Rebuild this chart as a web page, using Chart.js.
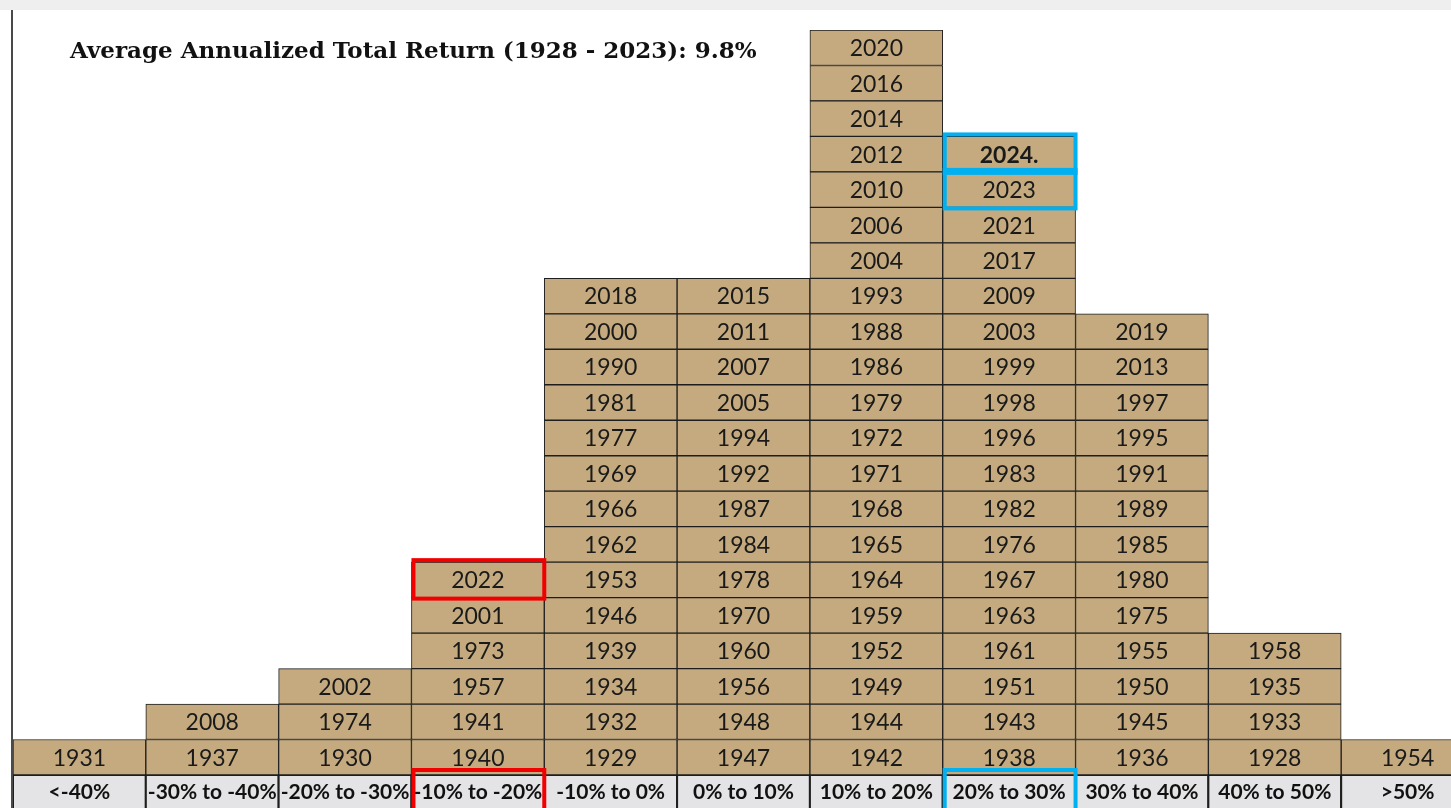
<!DOCTYPE html>
<html>
<head>
<meta charset="utf-8">
<script src="https://cdn.jsdelivr.net/npm/chart.js@4.4.0/dist/chart.umd.min.js"></script>
<style>
  html, body { margin: 0; padding: 0; background: #fff; overflow: hidden; }
  canvas { display: block; }
</style>
</head>
<body>
<canvas id="chart" width="1476" height="808"></canvas>
<script>
// return buckets (x axis)
const bins = ['<-40%', '-30% to -40%', '-20% to -30%', '-10% to -20%', '-10% to 0%',
  '0% to 10%', '10% to 20%', '20% to 30%', '30% to 40%', '40% to 50%', '>50%']

// years in each bucket, bottom of the stack first
const yearsLt40 = [1931]
const years30to40neg = [1937, 2008]
const years20to30neg = [1930, 1974, 2002]
const years10to20neg = [1940, 1941, 1957, 1973, 2001, 2022]
const years0to10neg = [1929, 1932, 1934, 1939, 1946, 1953, 1962, 1966, 1969, 1977, 1981, 1990, 2000, 2018]
const years0to10 = [1947, 1948, 1956, 1960, 1970, 1978, 1984, 1987, 1992, 1994, 2005, 2007, 2011, 2015]
const years10to20 = [1942, 1944, 1949, 1952, 1959, 1964, 1965, 1968, 1971, 1972, 1979, 1986, 1988, 1993,
  2004, 2006, 2010, 2012, 2014, 2016, 2020]
const years20to30 = [1938, 1943, 1951, 1961, 1963, 1967, 1976, 1982, 1983, 1996, 1998, 1999, 2003, 2009,
  2017, 2021, 2023, 2024]
const years30to40 = [1936, 1945, 1950, 1955, 1975, 1980, 1985, 1989, 1991, 1995, 1997, 2013, 2019]
const years40to50 = [1928, 1933, 1935, 1958]
const yearsGt50 = [1954]

const years = [yearsLt40, years30to40neg, years20to30neg, years10to20neg, years0to10neg,
  years0to10, years10to20, years20to30, years30to40, years40to50, yearsGt50]

// marked cells
const redYears = [2022]
const blueYears = [2024, 2023]
const boldYears = [2024]

const title = 'Average Annualized Total Return (1928 - 2023): 9.8%'

const tan = '#c4aa7e'
const lineColor = '#1e1e1e'
const red = '#f00000'
const blue = '#00b0f0'

let levels = Math.max(...years.map(col => col.length))
let datasets = []
for (let k = 0; k < levels; k++) {
    datasets.push({
        data: years.map(col => col.length > k ? 1 : null),
        backgroundColor: tan,
        borderColor: lineColor,
        borderWidth: 1,
        borderSkipped: false,
        categoryPercentage: 1,
        barPercentage: 1,
    })
}

function findCell(chart, yr) {
    for (let i = 0; i < years.length; i++) {
        let k = years[i].indexOf(yr)
        if (k >= 0) return { i, bar: chart.getDatasetMeta(k).data[i] }
    }
}

const decor = {
    id: 'decor',
    beforeDraw(chart) {
        const { ctx, chartArea, scales } = chart
        const w = chartArea.width / bins.length
        ctx.save()
        // top strip and left frame line
        ctx.fillStyle = '#efefef'
        ctx.fillRect(0, 0, chart.width, 10)
        // label cells
        bins.forEach((b, i) => {
            const cx = scales.x.getPixelForValue(i)
            ctx.fillStyle = '#e4e4e6'
            ctx.fillRect(cx - w / 2, chartArea.bottom, w, chart.height - chartArea.bottom)
            ctx.strokeStyle = lineColor
            ctx.lineWidth = 2
            ctx.strokeRect(cx - w / 2, chartArea.bottom, w, chart.height - chartArea.bottom + 5)
        })
        ctx.fillStyle = '#4a4a4a'
        ctx.fillRect(11, 10, 2, chart.height - 10)
        // title
        ctx.fillStyle = '#111'
        ctx.font = 'bold 23px "DejaVu Serif"'
        ctx.textAlign = 'left'
        ctx.textBaseline = 'alphabetic'
        ctx.fillText(title, 70, 58)
        ctx.restore()
    },
    afterDatasetsDraw(chart) {
        const ctx = chart.ctx
        ctx.save()
        ctx.textAlign = 'center'
        ctx.textBaseline = 'middle'
        ctx.fillStyle = '#1a1a1a'
        chart.data.datasets.forEach((ds, k) => {
            chart.getDatasetMeta(k).data.forEach((bar, i) => {
                const yr = years[i][k]
                if (yr === undefined) return
                const bold = boldYears.includes(yr)
                ctx.font = (bold ? 'bold ' : '') + '23px Lato'
                ctx.fillText(bold ? yr + '.' : String(yr), bar.x, (bar.y + bar.base) / 2 + 1)
            })
        })
        ctx.restore()
    },
    afterDraw(chart) {
        const { ctx, chartArea } = chart
        ctx.save()
        ctx.lineWidth = 4
        const mark = (list, color) => {
            let col
            list.forEach(yr => {
                const c = findCell(chart, yr)
                col = c
                const b = c.bar
                ctx.strokeStyle = color
                ctx.strokeRect(b.x - b.width / 2 + 2, b.y - 2, b.width - 2, b.base - b.y + 3)
            })
            const b = col.bar
            ctx.strokeRect(b.x - b.width / 2 + 2, chartArea.bottom - 5, b.width - 2, 50)
        }
        mark(redYears, red)
        mark(blueYears, blue)
        ctx.restore()
    }
}

new Chart(document.getElementById('chart'), {
    type: 'bar',
    data: { labels: bins, datasets },
    options: {
        responsive: false,
        animation: false,
        layout: { padding: { top: 30, left: 13, right: 2, bottom: 0 } },
        plugins: { legend: { display: false }, tooltip: { enabled: false } },
        scales: {
            x: {
                stacked: true,
                grid: { display: false, drawTicks: false },
                border: { display: false },
                ticks: { font: { family: 'Lato', weight: 'bold', size: 21 }, color: '#111', padding: 5, maxRotation: 0, autoSkip: false },
                afterFit: s => { s.height = 33 }
            },
            y: { stacked: true, display: false, min: 0, max: levels }
        }
    },
    plugins: [decor]
})
</script>
</body>
</html>
